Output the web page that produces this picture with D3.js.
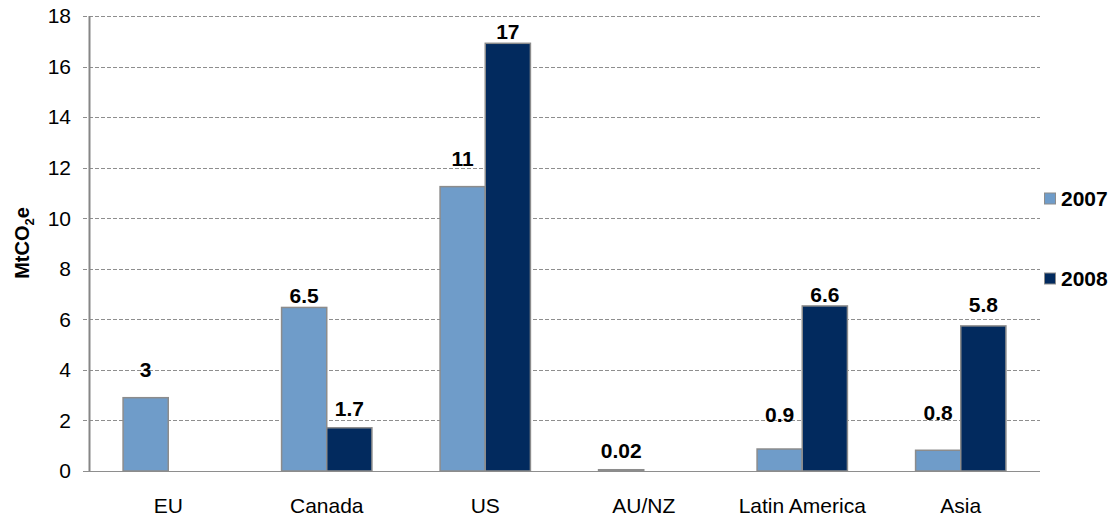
<!DOCTYPE html>
<html>
<head>
<meta charset="utf-8">
<script src="https://cdn.jsdelivr.net/npm/d3@7"></script>
<style>
  body { margin: 0; background: #fff; }
  text { font-family: "Liberation Sans", Arial, sans-serif; }
</style>
</head>
<body>
<div id="chart"></div>
<script>
// Data
const regions = ["EU", "Canada", "US", "AU/NZ", "Latin America", "Asia"];
const years = ["2007", "2008"];
const values2007 = [2.9, 6.47, 11.25, 0.05, 0.87, 0.82];
const values2008 = [0, 1.71, 16.92, 0, 6.53, 5.74];
const labels2007 = ["3", "6.5", "11", "0.02", "0.9", "0.8"];
const labels2008 = ["", "1.7", "17", "", "6.6", "5.8"];
const yTicks = [0, 2, 4, 6, 8, 10, 12, 14, 16, 18];

// gap (px) between bar top and label baseline, as the labels sit in the original
const labelGap2007 = [21, 4, 21, 12, 27, 30];
const labelGap2008 = [0, 12, 4, 0, 4, 14];

const colors = {"2007": "#6f9cc9", "2008": "#022a5e"};

const width = 1117, height = 518;
const margin = {left: 89, right: 77, top: 16, bottom: 47};
const innerW = width - margin.left - margin.right;
const innerH = height - margin.top - margin.bottom;

const svg = d3.select("#chart")
    .append("svg")
    .attr("width", width)
    .attr("height", height);

const g = svg.append("g")
    .attr("transform", `translate(${margin.left},${margin.top})`);

const x = d3.scaleBand()
    .domain(regions)
    .range([0, innerW])
    .paddingInner(0.43)
    .paddingOuter(0.215);

const xSub = d3.scaleBand()
    .domain(years)
    .range([0, x.bandwidth()]);

const y = d3.scaleLinear()
    .domain([0, 18])
    .range([innerH, 0]);

// dashed gridlines
g.append("g")
    .selectAll("line")
    .data(yTicks)
    .join("line")
    .attr("x1", -6)
    .attr("x2", innerW)
    .attr("y1", d => Math.round(y(d)) + 0.5)
    .attr("y2", d => Math.round(y(d)) + 0.5)
    .attr("stroke", "#8e8e8e")
    .attr("stroke-width", 1)
    .attr("stroke-dasharray", d => d === 0 ? null : "4,2");

// y axis labels
g.append("g")
    .selectAll("text")
    .data(yTicks)
    .join("text")
    .attr("x", -18)
    .attr("y", d => y(d))
    .attr("dy", "0.35em")
    .attr("text-anchor", "end")
    .attr("font-size", "21px")
    .attr("fill", "#000")
    .text(d => d);

// bars
const series = years.map(yr => ({
    year: yr,
    vals: yr === "2007" ? values2007 : values2008,
    labels: yr === "2007" ? labels2007 : labels2008,
    gaps: yr === "2007" ? labelGap2007 : labelGap2008
}));

series.forEach(s => {
    const bars = g.append("g");
    regions.forEach((r, i) => {
        const v = s.vals[i];
        if (v > 0) {
            bars.append("rect")
                .attr("x", x(r) + xSub(s.year))
                .attr("y", y(v))
                .attr("width", xSub.bandwidth())
                .attr("height", y(0) - y(v))
                .attr("fill", colors[s.year])
                .attr("stroke", "#8c8c8c")
                .attr("stroke-width", 1.5);
        }
        if (s.labels[i] !== "") {
            bars.append("text")
                .attr("x", x(r) + xSub(s.year) + xSub.bandwidth() / 2)
                .attr("y", y(v) - s.gaps[i])
                .attr("text-anchor", "middle")
                .attr("font-size", "21px")
                .attr("font-weight", "bold")
                .attr("fill", "#000")
                .text(s.labels[i]);
        }
    });
});

// y axis line
g.append("line")
    .attr("x1", 0.5).attr("x2", 0.5)
    .attr("y1", 0).attr("y2", innerH)
    .attr("stroke", "#868686")
    .attr("stroke-width", 2);

// category labels
g.append("g")
    .selectAll("text")
    .data(regions)
    .join("text")
    .attr("x", d => x(d) + x.bandwidth() / 2)
    .attr("y", innerH + 42)
    .attr("text-anchor", "middle")
    .attr("font-size", "21px")
    .attr("fill", "#000")
    .text(d => d);

// y title
const yt = svg.append("text")
    .attr("transform", "translate(29,243) rotate(-90)")
    .attr("text-anchor", "middle")
    .attr("font-size", "20px")
    .attr("font-weight", "bold");
yt.append("tspan").text("MtCO");
yt.append("tspan").attr("font-size", "13px").attr("dy", "5").text("2");
yt.append("tspan").attr("dy", "-5").text("e");

// legend
const legendY = [198.5, 278.5];
const legend = svg.append("g");
years.forEach((yr, i) => {
    legend.append("rect")
        .attr("x", 1044.5)
        .attr("y", legendY[i] - 5.5)
        .attr("width", 11)
        .attr("height", 11)
        .attr("fill", colors[yr])
        .attr("stroke", "#8c8c8c")
        .attr("stroke-width", 1);
    legend.append("text")
        .attr("x", 1061)
        .attr("y", legendY[i])
        .attr("dy", "0.35em")
        .attr("font-size", "21px")
        .attr("font-weight", "bold")
        .text(yr);
});
</script>
</body>
</html>
